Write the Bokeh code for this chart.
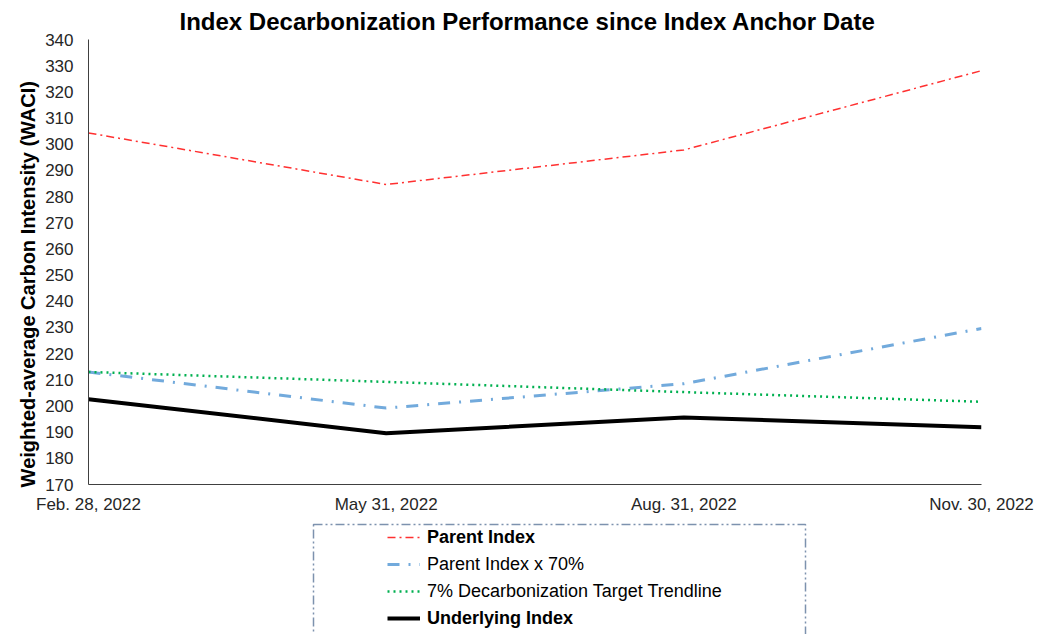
from bokeh.plotting import figure
from bokeh.models import Range1d, FixedTicker, Legend, LegendItem, BoxAnnotation
from bokeh.layouts import column
from bokeh.embed import file_html
from bokeh.resources import INLINE

dates = ["Feb. 28, 2022", "May 31, 2022", "Aug. 31, 2022", "Nov. 30, 2022"]
parent = [304.3, 284.6, 297.8, 328.1]
parent70 = [213.0, 199.2, 208.5, 229.6]
target = [213.0, 209.2, 205.3, 201.6]
underlying = [202.6, 189.6, 195.6, 191.9]
y_ticks = list(range(170, 341, 10))
legend_labels = ["Parent Index", "Parent Index x 70%",
                 "7% Decarbonization Target Trendline", "Underlying Index"]
series = [parent, parent70, target, underlying]

FONT = "Liberation Sans"
xs = list(range(len(dates)))

styles = [
    dict(line_color="#ff3030", line_width=1.5, line_dash="8 4 2 4"),
    dict(line_color="#72aadc", line_width=3, line_dash="12 9 2 9"),
    dict(line_color="#00b050", line_width=2.5, line_dash="2 4"),
    dict(line_color="black", line_width=4),
]

p = figure(width=1044, height=520, output_backend="svg", toolbar_location=None,
           x_range=Range1d(0, len(dates) - 1), y_range=Range1d(170, 340),
           min_border_left=88, min_border_right=63, min_border_top=38,
           min_border_bottom=36)
p.outline_line_color = None
p.xgrid.visible = False
p.ygrid.visible = False

for ys, st in zip(series, styles):
    p.line(xs, ys, **st)

p.title.text = "Index Decarbonization Performance since Index Anchor Date"
p.title.text_font = FONT
p.title.text_font_size = "24px"
p.title.text_font_style = "bold"
p.title.align = "left"
p.title.offset = 91
p.title.standoff = 10
p.title.text_color = "black"

p.yaxis.ticker = FixedTicker(ticks=y_ticks)
p.xaxis.ticker = FixedTicker(ticks=xs)
p.xaxis.major_label_overrides = {i: d for i, d in enumerate(dates)}
for ax in (p.xaxis[0], p.yaxis[0]):
    ax.axis_line_color = "#404040"
    ax.axis_line_width = 1
    ax.major_tick_line_color = None
    ax.minor_tick_line_color = None
    ax.major_label_text_font = FONT
    ax.major_label_text_font_size = "17px"
    ax.major_label_text_color = "#262626"
p.yaxis.major_label_standoff = 9
p.xaxis.major_label_standoff = 4
p.yaxis.axis_label = "Weighted-average Carbon Intensity (WACI)" + "\u00a0" * 8
p.yaxis.axis_label_text_font = FONT
p.yaxis.axis_label_text_font_size = "20px"
p.yaxis.axis_label_text_font_style = "bold"
p.yaxis.axis_label_text_color = "black"
p.yaxis.axis_label_standoff = 3

# legend panel: a separate figure below (its frame aligns with the main frame)
H2 = 114
q = figure(width=1044, height=H2, output_backend="svg", toolbar_location=None,
           x_range=Range1d(88, 981), y_range=Range1d(0, H2),
           x_axis_type=None, y_axis_type=None, min_border=0)
q.outline_line_color = None
q.xgrid.visible = False
q.ygrid.visible = False

# same series, lying outside this panel's view: only their legend samples show
rs = [q.line(xs, ys, **st) for ys, st in zip(series, styles)]

q.add_layout(BoxAnnotation(left=313, right=805, top=110, bottom=-10,
                           fill_alpha=0, line_color="#7d92ae", line_alpha=1,
                           line_width=1.5, line_dash="9 3 2 3 2 3"))

common = dict(padding=0, margin=0, spacing=5, glyph_width=33, glyph_height=22,
              label_height=22, label_standoff=7, border_line_color=None,
              background_fill_alpha=0, label_text_font=FONT,
              label_text_font_size="18px", label_text_color="black")
groups = [([0], "bold", (299, 86)), ([1, 2], "normal", (299, 32)), ([3], "bold", (299, 5))]
for idx, style, loc in groups:
    lg = Legend(items=[LegendItem(label=legend_labels[i], renderers=[rs[i]]) for i in idx],
                location=loc, label_text_font_style=style, **common)
    q.add_layout(lg)

layout = column(p, q, spacing=0)
open("out.html", "w").write(file_html(layout, INLINE))
